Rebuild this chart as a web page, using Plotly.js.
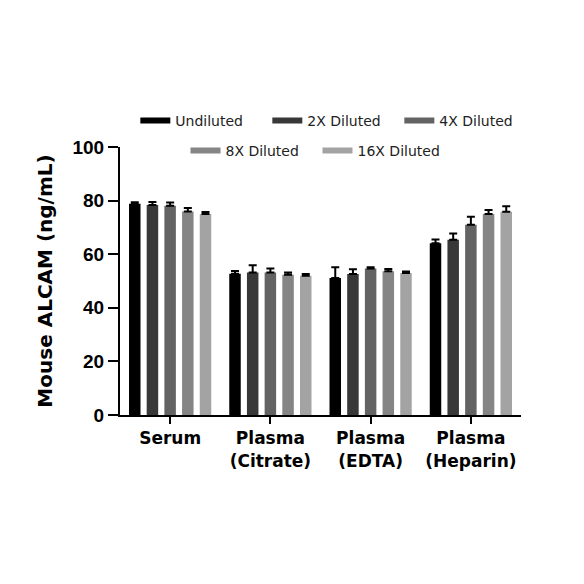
<!DOCTYPE html>
<html>
<head>
<meta charset="utf-8">
<script src="https://cdn.plot.ly/plotly-3.0.1.min.js"></script>
<style>html,body{margin:0;padding:0;background:#fff;}#chart{width:584px;height:584px;}</style>
</head>
<body>
<div id="chart"></div>
<script>
var categories = ["Serum", "Plasma<br>(Citrate)", "Plasma<br>(EDTA)", "Plasma<br>(Heparin)"];
var seriesNames = ["Undiluted", "2X Diluted", "4X Diluted", "8X Diluted", "16X Diluted"];
var seriesColors = ["#000000", "#383838", "#636363", "#858585", "#a3a3a3"];
var undiluted = [78.8, 52.7, 51.1, 64.1];
var diluted2x = [78.4, 53.2, 52.6, 65.4];
var diluted4x = [78.1, 53.2, 54.7, 71.0];
var diluted8x = [75.9, 52.3, 53.6, 75.0];
var diluted16x = [75.0, 52.0, 53.0, 75.8];
var errUndiluted = [0.6, 1.0, 4.0, 1.4];
var err2x = [1.1, 2.7, 1.8, 2.3];
var err4x = [1.2, 1.5, 0.4, 3.0];
var err8x = [1.3, 0.9, 0.9, 1.5];
var err16x = [0.7, 0.6, 0.5, 2.1];
var yTicks = [0, 20, 40, 60, 80, 100];

var values = [undiluted, diluted2x, diluted4x, diluted8x, diluted16x];
var errors = [errUndiluted, err2x, err4x, err8x, err16x];

var traces = [];
for (var i = 0; i < 5; i++) {
  traces.push({
    type: 'bar',
    x: [0, 1, 2, 3],
    y: values[i],
    name: seriesNames[i],
    marker: {color: seriesColors[i], line: {width: 0}},
    showlegend: false,
    error_y: {type: 'data', symmetric: false, array: errors[i], arrayminus: [0,0,0,0], color: '#000', thickness: 2, width: 4}
  });
}
for (var j = 0; j < 5; j++) {
  traces.push({
    type: 'scatter',
    mode: 'lines',
    x: [null],
    y: [null],
    name: seriesNames[j],
    line: {color: seriesColors[j], width: 6},
    showlegend: true,
    hoverinfo: 'skip',
    legend: j < 3 ? 'legend' : 'legend2'
  });
}

var legendFont = {family: 'DejaVu Sans', size: 14, color: '#222'};
var layout = {
  width: 584, height: 584,
  margin: {l: 120, r: 63, t: 147, b: 169},
  paper_bgcolor: '#fff', plot_bgcolor: '#fff',
  barmode: 'group', bargap: 0.118, bargroupgap: 0.35,
  xaxis: {
    range: [-0.5, 3.5], tickmode: 'array', tickvals: [0, 1, 2, 3], ticktext: categories,
    showline: true, linecolor: '#000', linewidth: 2, showgrid: false, zeroline: false,
    ticks: 'outside', ticklen: 7, tickwidth: 2, tickcolor: '#000',
    tickfont: {family: 'DejaVu Sans', size: 17, color: '#000', weight: 'bold'}
  },
  yaxis: {
    range: [0, 100], tickmode: 'array', tickvals: yTicks,
    showline: true, linecolor: '#000', linewidth: 2, showgrid: false, zeroline: false,
    ticks: 'outside', ticklen: 10, tickwidth: 2, tickcolor: '#000',
    tickfont: {family: 'Liberation Sans', size: 19, color: '#000', weight: 'bold'},
    title: {text: 'Mouse ALCAM (ng/mL)', font: {family: 'DejaVu Sans', size: 20, color: '#000', weight: 'bold'}, standoff: 14}
  },
  legend: {orientation: 'h', x: 0.532, xanchor: 'center', y: 1.097, yanchor: 'middle', font: legendFont, entrywidth: 87, entrywidthmode: 'pixels', bgcolor: 'rgba(0,0,0,0)', itemclick: false},
  legend2: {orientation: 'h', x: 0.4925, xanchor: 'center', y: 0.985, yanchor: 'middle', font: legendFont, entrywidth: 87, entrywidthmode: 'pixels', bgcolor: 'rgba(0,0,0,0)', itemclick: false},
  showlegend: true
};

Plotly.newPlot('chart', traces, layout, {displayModeBar: false, staticPlot: true});
</script>
</body>
</html>
